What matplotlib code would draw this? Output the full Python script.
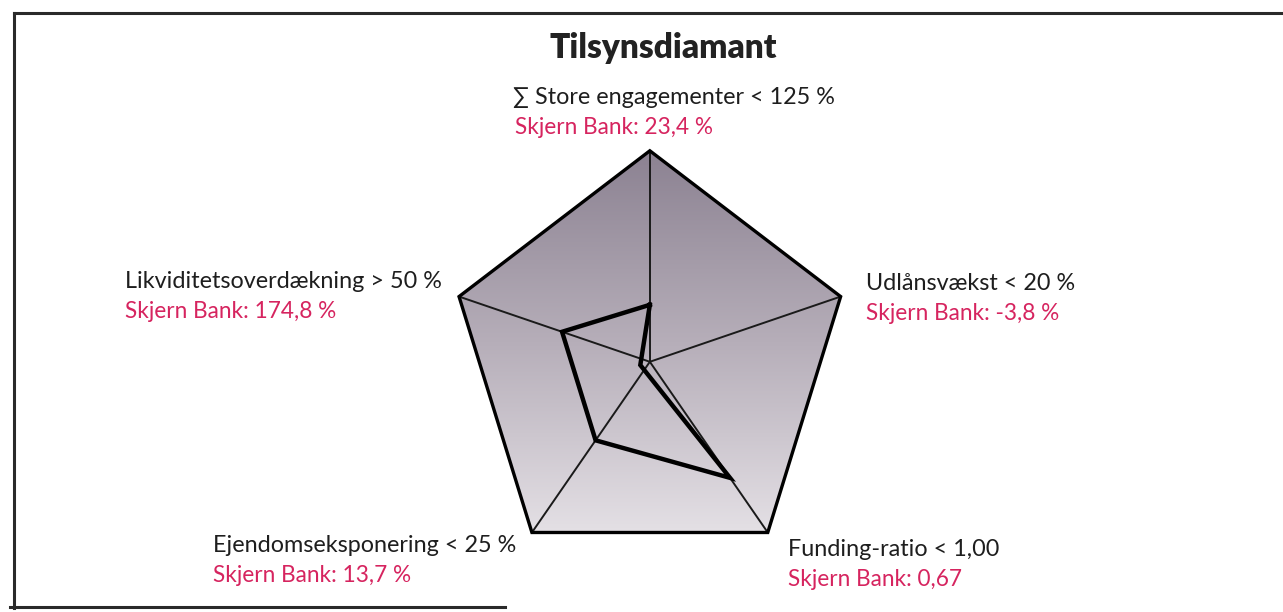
import numpy as np
import matplotlib
matplotlib.use("Agg")
import matplotlib.pyplot as plt
from matplotlib.patches import Polygon
from matplotlib.colors import LinearSegmentedColormap

# axes of the diamond, clockwise from the top
limits = ["\u2211 Store engagementer < 125 %", "Udlånsvækst < 20 %",
          "Funding-ratio < 1,00", "Ejendomseksponering < 25 %",
          "Likviditetsoverdækning > 50 %"]
bank_values = ["Skjern Bank: 23,4 %", "Skjern Bank: -3,8 %",
               "Skjern Bank: 0,67", "Skjern Bank: 13,7 %",
               "Skjern Bank: 174,8 %"]
# share of the limit as drawn (1 = on the limit)
plot_share = [0.27, -0.05, 0.68, 0.46, 0.46]

RED = "#d6245f"
FONT = ["Lato", "DejaVu Sans"]
plt.rcParams["font.family"] = FONT

fig = plt.figure(figsize=(12.83, 6.12), dpi=100)

# background axes in pixel units for frame and labels
bg = fig.add_axes([0, 0, 1, 1])
bg.set_xlim(0, 1283)
bg.set_ylim(612, 0)
bg.axis("off")
bg.plot([14, 1283], [13, 13], color="#2a2a2a", lw=2.2)
bg.plot([14, 14], [13, 608], color="#2a2a2a", lw=2.2)
bg.plot([10, 505], [607, 607], color="#2a2a2a", lw=2.2)

# radar axes
ax = fig.add_axes([0.3345, 0.0296, 0.3440, 0.7585])
ax.set_xlim(-1.1, 1.1)
ax.set_ylim(-1.1, 1.1)
ax.axis("off")

n = len(limits)
angles = np.pi / 2 - np.arange(n) * 2 * np.pi / n
vx = np.cos(angles)
vy = np.sin(angles)

# gradient filled pentagon, dark at the top
cmap = LinearSegmentedColormap.from_list("dia", ["#8c8292", "#b6aeb9", "#e4e0e5"])
grad = np.linspace(0, 1, 256).reshape(-1, 1)
im = ax.imshow(grad, extent=[-1, 1, -0.81, 1], origin="upper", cmap=cmap,
               aspect="auto", zorder=1)
outer = Polygon(np.column_stack([vx, vy]), closed=True, fill=False,
                edgecolor="black", lw=2.4, zorder=4, joinstyle="miter")
ax.add_patch(outer)
im.set_clip_path(outer)

# spokes
for x, y in zip(vx, vy):
    ax.plot([0, x], [0, y], color="#1a1a1a", lw=1.4, zorder=2)

# bank values
r = np.array(plot_share)
px = np.append(r * vx, r[0] * vx[0])
py = np.append(r * vy, r[0] * vy[0])
ax.plot(px, py, color="black", lw=3.2, zorder=3, solid_joinstyle="miter")

# title and labels
bg.text(663, 48, "Tilsynsdiamant", ha="center", va="center", fontsize=24,
        fontweight="heavy", color="#222222")
label_pos = [(513, 97), (866, 283), (788, 549), (213, 545), (125, 281)]
for i, ((x, y), lab, val) in enumerate(zip(label_pos, limits, bank_values)):
    bg.text(x, y, lab, ha="left", va="center", fontsize=16.8, color="#1e1e1e")
    bg.text(x + (2 if i == 0 else 0), y + 31, val, ha="left", va="center",
            fontsize=16.3, color=RED)

fig.savefig("out.png", dpi=100, facecolor="white")
